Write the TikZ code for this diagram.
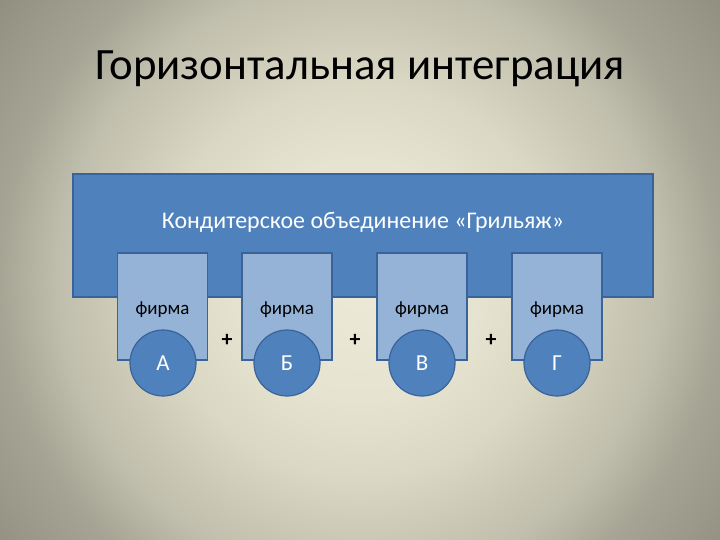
\documentclass[tikz,border=0pt]{standalone}
\usepackage{fontspec}
\setmainfont{Carlito}
\usepackage{tikz}
\tikzset{>=stealth}
\definecolor{bigblue}{HTML}{4F81BD}
\definecolor{lightblue}{HTML}{95B3D7}
\definecolor{edgeblue}{HTML}{3A639A}
\pgfdeclareradialshading{bgshade}{\pgfpoint{0bp}{0bp}}{%
  rgb(0bp)=(0.925,0.918,0.839); rgb(120bp)=(0.902,0.894,0.816);
  rgb(200bp)=(0.855,0.847,0.765); rgb(300bp)=(0.753,0.745,0.675);
  rgb(360bp)=(0.651,0.647,0.584); rgb(470bp)=(0.557,0.549,0.494);
  rgb(600bp)=(0.541,0.533,0.478)}
\tikzset{
  bigbox/.style={draw=edgeblue, fill=bigblue, line width=1.2pt, minimum width=580bp, minimum height=123bp},
  firmbox/.style={draw=edgeblue, fill=lightblue, line width=1.2pt, minimum width=90bp, minimum height=107bp, text height=17bp, text depth=1bp, font=\fontsize{19}{22}\selectfont},
  letter/.style={circle, draw=edgeblue, fill=bigblue, line width=1.2pt, minimum size=66bp, text=white, font=\fontsize{23}{26}\selectfont},
  plus/.style={font=\bfseries\fontsize{22}{24}\selectfont}
}

\begin{document}
\begin{tikzpicture}[x=1bp,y=-1bp]
    \useasboundingbox (0,0) rectangle (720,540);
    \begin{scope}
      \clip (0,0) rectangle (720,540);
      \node[inner sep=0pt] (back) at (360,280) {\pgfuseshading{bgshade}};
    \end{scope}
    \node[font=\fontsize{45}{52}\selectfont] (title) at (360,69) {Горизонтальная интеграция};
    \node[bigbox] (union) at (363,235.5) {};
    \node[text=white, font=\fontsize{24}{28}\selectfont] (uname) at (363,222) {Кондитерское объединение «Грильяж»};
    \node[firmbox] (firmA) at (162.5,306.5) {фирма};
    \node[firmbox] (firmB) at (287,306.5) {фирма};
    \node[firmbox] (firmV) at (422,306.5) {фирма};
    \node[firmbox] (firmG) at (557,306.5) {фирма};
    \node[letter] (A) at (163,363) {А};
    \node[letter] (B) at (287,363) {Б};
    \node[letter] (V) at (422,363) {В};
    \node[letter] (G) at (557,363) {Г};
    \node[plus] (plusAB) at (227,340) {+};
    \node[plus] (plusBV) at (355,340) {+};
    \node[plus] (plusVG) at (491,340) {+};
\end{tikzpicture}
\end{document}
